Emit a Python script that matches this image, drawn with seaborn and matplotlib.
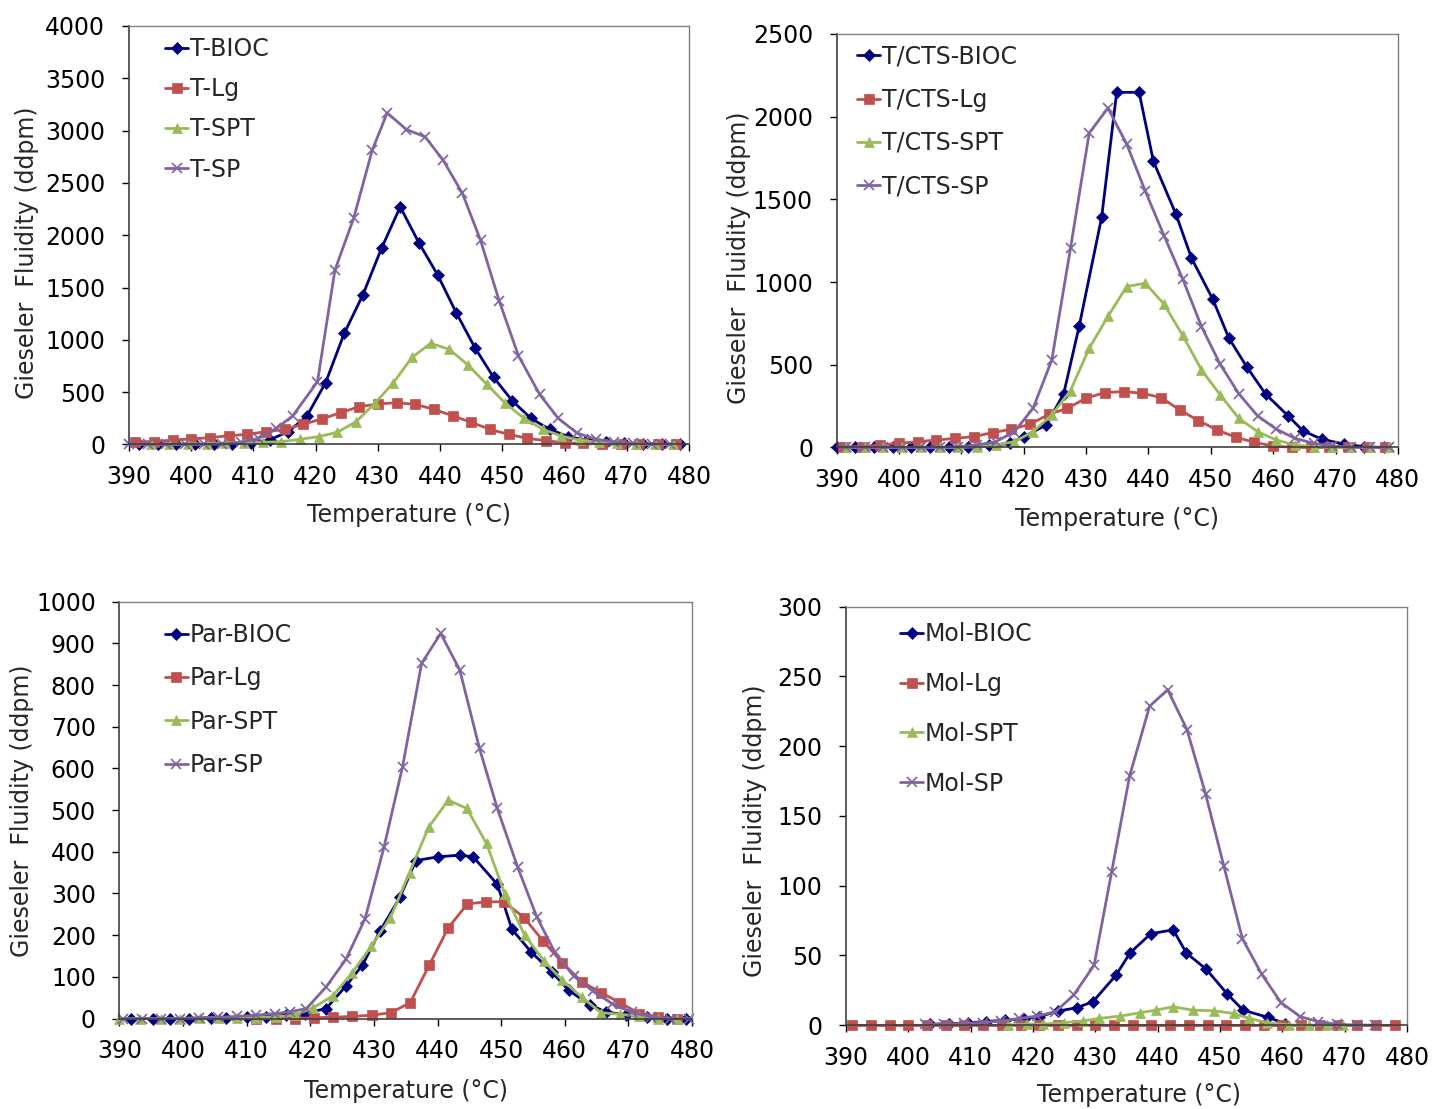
import matplotlib
matplotlib.use("Agg")
import matplotlib.pyplot as plt
import seaborn as sns

sns.set_theme(style="white")
plt.rcParams["font.family"] = ["DejaVu Sans"]

# ── data ──────────────────────────────────────────────────────────────────
# panel 1 : T-
P1_BIOC_T = [391.6, 394.6, 397.6, 400.6, 403.6, 406.6, 409.6, 412.6, 415.6, 418.6, 421.6, 424.6, 427.6, 430.6, 433.6,
             436.6, 439.6, 442.6, 445.6, 448.6, 451.6, 454.6, 457.6, 460.6, 463.6, 466.6, 469.6, 472.6, 475.6, 478.6]
P1_BIOC = [0, 0, 0, 0, 0, 5, 15, 45, 122, 272, 590, 1062, 1431, 1877, 2271,
           1927, 1622, 1259, 925, 642, 418, 250, 145, 75, 40, 20, 10, 5, 3, 0]
P1_LG_T = [391, 394, 397, 400, 403, 406, 409, 412, 415, 418, 421, 424, 427, 430, 433,
           436, 439, 442, 445, 448, 451, 454, 457, 460, 463, 466, 469, 472, 475, 478]
P1_LG = [27, 27, 43, 53, 65, 84, 97, 122, 145, 193, 244, 304, 361, 387, 399,
         384, 336, 275, 212, 145, 97, 59, 36, 17, 10, 5, 3, 2, 0, 0]
P1_SPT_T = [393.5, 396.5, 399.5, 402.5, 405.5, 408.5, 411.5, 414.5, 417.5, 420.5, 423.5, 426.5, 429.5, 432.5, 435.5,
            438.5, 441.5, 444.5, 447.5, 450.5, 453.5, 456.5, 459.5, 462.5, 465.5, 468.5, 471.5, 474.5, 477.5]
P1_SPT = [0, 0, 5, 8, 15, 17, 21, 27, 50, 75, 117, 218, 393, 590, 833,
          967, 909, 759, 575, 393, 250, 145, 81, 40, 20, 10, 5, 2, 0]
P1_SP_T = [390, 393, 396, 399, 402, 405, 408, 410.8, 413.7, 416.3, 420.3, 423.1, 426.1, 429.1, 431.5,
           434.6, 437.6, 440.5, 443.6, 446.5, 449.5, 452.6, 456, 459, 462, 465, 468, 471, 474, 477]
P1_SP = [0, 0, 0, 0, 0, 5, 20, 59, 155, 272, 600, 1667, 2160, 2813, 3169,
         3010, 2940, 2717, 2399, 1953, 1373, 848, 479, 250, 110, 50, 25, 10, 5, 0]

# panel 2 : T/CTS-
P2_BIOC_T = [390, 393, 396, 399, 402, 405, 408, 411, 414.5, 417.8, 420, 423.6, 426.4, 428.9, 432.5,
             434.9, 438.5, 440.8, 444.4, 446.9, 450.3, 452.9, 455.8, 458.8, 462.4, 464.8, 467.8, 471.3, 474.5, 477.8]
P2_BIOC = [0, 0, 0, 0, 0, 0, 0, 5, 12, 25, 65, 136, 324, 735, 1393,
           2147, 2147, 1729, 1411, 1145, 897, 661, 485, 322, 191, 100, 50, 21, 5, 0]
P2_LG_T = [391, 394, 397, 400, 403, 406, 409, 412, 415, 418, 421, 424, 427, 430, 433,
           436, 439, 442, 445, 448, 451, 454, 457, 460, 463, 466, 469, 472, 475, 478]
P2_LG = [5, 5, 15, 25, 35, 45, 55, 66, 90, 110, 140, 200, 237, 298, 332,
         338, 328, 302, 227, 163, 106, 62, 31, 9, 1, 0, 0, 0, 0, 0]
P2_SPT_T = [391.5, 394.5, 397.5, 400.5, 403.5, 406.5, 409.5, 412.5, 415.5, 418.5, 421.5, 424.5, 427.5, 430.5, 433.5,
            436.5, 439.5, 442.5, 445.5, 448.5, 451.5, 454.5, 457.5, 460.5, 463.5, 466.5, 469.5, 472.5, 475.5, 478.5]
P2_SPT = [0, 0, 0, 0, 0, 0, 0, 5, 15, 35, 96, 197, 344, 600, 792,
          973, 993, 866, 677, 469, 318, 176, 96, 45, 15, 5, 0, 0, 0, 0]
P2_SP_T = P2_SPT_T
P2_SP = [0, 0, 0, 0, 0, 0, 5, 15, 35, 95, 237, 529, 1205, 1901, 2052,
         1835, 1549, 1281, 1018, 731, 503, 324, 191, 111, 55, 25, 9, 1, 0, 0]

# panel 3 : Par-
P3_BIOC_T = [391.8, 395.2, 397.9, 401, 404.4, 406.8, 410, 413.1, 416.2, 419.1, 422.5, 425.6, 428.2, 431, 434.1,
             436.6, 440.1, 443.5, 445.6, 449.4, 451.7, 454.7, 458, 460.6, 464, 466.5, 469.7, 473, 476, 479]
P3_BIOC = [0, 0, 0, 0, 2, 2, 3, 4, 8, 12, 24, 78, 128, 211, 291,
           379, 388, 392, 388, 322, 214, 160, 111, 68, 32, 16, 8, 3, 0, 0]
P3_LG_T = [411.5, 414.6, 417.6, 420.6, 423.6, 426.6, 429.7, 432.7, 435.7, 438.7, 441.7, 444.7,
           447.6, 450.5, 453.6, 456.6, 459.6, 462.7, 465.7, 468.7, 471.7, 474.7, 477.7]
P3_LG = [0, 0, 0, 2, 3, 5, 8, 14, 38, 128, 218, 275, 280, 280, 242, 186, 134, 88, 62, 38, 12, 3, 0]
P3_SPT_T = [390, 393.3, 396.5, 399.5, 402.6, 405.6, 408.5, 411.5, 414.6, 417.6, 420.5, 423.5, 426.6, 429.6, 432.6,
            435.6, 438.6, 441.7, 444.6, 447.7, 450.6, 453.7, 456.7, 459.6, 462.7, 465.7, 468.7, 471.7, 474.7, 477.7]
P3_SPT = [0, 0, 0, 0, 1, 1, 1, 2, 4, 8, 26, 54, 110, 174, 242,
          350, 459, 524, 504, 420, 298, 200, 139, 92, 51, 14, 10, 6, 0, 0]
P3_SP_T = [390.5, 393.5, 396.5, 399.5, 402.5, 405.5, 408.5, 411.5, 414.5, 416.8, 419.4, 422.5, 425.6, 428.6, 431.6, 434.5,
           437.5, 440.5, 443.5, 446.6, 449.4, 452.6, 455.6, 458.4, 461.4, 464.5, 467.5, 470.5, 473.5, 476.5, 479.5]
P3_SP = [0, 0, 0, 0, 2, 3, 5, 8, 12, 16, 24, 76, 142, 239, 412, 604,
         852, 924, 836, 648, 504, 363, 244, 160, 102, 65, 35, 15, 4, 0, 0]

# panel 4 : Mol-
P4_BIOC_T = [403.5, 406.5, 409.5, 412.5, 415.5, 418.5, 421, 424, 427, 429.6,
             433.3, 435.6, 438.9, 442.5, 444.6, 447.8, 451.2, 453.7, 457.7, 460.5]
P4_BIOC = [0.5, 1, 1.5, 2.5, 3.5, 4.5, 6, 10, 12.4, 16.7, 35.7, 51.9, 65.5, 68.3, 51.7, 40, 22.1, 10.7, 5.5, 1]
P4_LG_T = [391, 394, 397, 400, 403, 406, 409, 412, 415, 418, 421, 424, 427, 430, 433,
           436, 439, 442, 445, 448, 451, 454, 457, 460, 463, 466, 469, 472, 475, 478]
P4_LG = [0] * 30
P4_SPT_T = [416, 419, 421.6, 424.9, 428, 430.6, 434, 437.1, 439.7, 442.5,
            445.6, 449.1, 452.2, 454.7, 457.5, 461.1, 464.3, 467.2, 469.8]
P4_SPT = [0, 0.7, 0.7, 1.7, 2.9, 4.8, 6.4, 8.8, 10.7, 13.1, 10.7, 10.2, 8.3, 4.8, 1.7, 0, 0, 0, 0]
P4_SP_T = [402.6, 405.8, 409, 411.9, 414.9, 417.8, 420.6, 423.6, 426.5, 429.8, 432.6, 435.5, 438.7,
           441.6, 444.7, 447.7, 450.6, 453.6, 456.7, 459.8, 462.9, 465.8, 468.8, 471.9, 474.8]
P4_SP = [0.5, 0.7, 1.2, 1.7, 2.9, 4.8, 6.4, 9.5, 21.4, 42.9, 109.5, 178.6, 228.6,
         240.5, 211.9, 165.5, 114.3, 61.9, 36.4, 16, 6, 2.4, 0.5, 0, 0]

SUFFIX = ["BIOC", "Lg", "SPT", "SP"]
COLORS = ["#000080", "#C0504D", "#9BBB59", "#8064A2"]
MARKERS = ["D", "s", "^", "x"]
MSIZE = [6, 6.5, 7, 7]

PANELS = [
    dict(prefix="T-", series=[(P1_BIOC_T, P1_BIOC), (P1_LG_T, P1_LG), (P1_SPT_T, P1_SPT), (P1_SP_T, P1_SP)],
         ymax=4000, ystep=500, pos=[0.0895, 0.5992, 0.3886, 0.3774],
         ylab=(-0.160, 0.458), xlab=(0.5, -0.14), leg=(0.064, 0.974), lsp=0.69),
    dict(prefix="T/CTS-", series=[(P2_BIOC_T, P2_BIOC), (P2_LG_T, P2_LG), (P2_SPT_T, P2_SPT), (P2_SP_T, P2_SP)],
         ymax=2500, ystep=500, pos=[0.5806, 0.5965, 0.3895, 0.3729],
         ylab=(-0.153, 0.458), xlab=(0.5, -0.144), leg=(0.036, 0.974), lsp=0.81),
    dict(prefix="Par-", series=[(P3_BIOC_T, P3_BIOC), (P3_LG_T, P3_LG), (P3_SPT_T, P3_SPT), (P3_SP_T, P3_SP)],
         ymax=1000, ystep=100, pos=[0.0829, 0.0816, 0.3973, 0.3758],
         ylab=(-0.149, 0.498), xlab=(0.5, -0.145), leg=(0.079, 0.949), lsp=0.82),
    dict(prefix="Mol-", series=[(P4_BIOC_T, P4_BIOC), (P4_LG_T, P4_LG), (P4_SPT_T, P4_SPT), (P4_SP_T, P4_SP)],
         ymax=300, ystep=50, pos=[0.5871, 0.0757, 0.3893, 0.3772],
         ylab=(-0.141, 0.464), xlab=(0.522, -0.139), leg=(0.096, 0.964), lsp=1.1),
]

FS = 17
fig = plt.figure(figsize=(14.41, 11.09), dpi=100)

for p in PANELS:
    ax = fig.add_axes(p["pos"])
    for (tx, vals), suf, col, mk, ms in zip(p["series"], SUFFIX, COLORS, MARKERS, MSIZE):
        sns.lineplot(x=tx, y=vals, ax=ax, color=col, marker=mk, markersize=ms,
                     markeredgecolor=col, markerfacecolor=col,
                     markeredgewidth=1.2 if mk == "x" else 0.5,
                     linewidth=2.0, label=p["prefix"] + suf, clip_on=False)
    ax.set_xlim(390, 480)
    ax.set_ylim(0, p["ymax"])
    ax.set_xticks(range(390, 481, 10))
    ax.set_yticks(range(0, p["ymax"] + 1, p["ystep"]))
    ax.tick_params(axis="both", direction="out", length=5, width=1, colors="black",
                   labelsize=FS, left=True, bottom=True)
    ax.tick_params(axis="y", pad=12)
    ax.tick_params(axis="x", pad=10)
    for side in ["left", "bottom"]:
        ax.spines[side].set_color("#404040")
        ax.spines[side].set_linewidth(1.2)
    for side in ["top", "right"]:
        ax.spines[side].set_color("#808080")
        ax.spines[side].set_linewidth(1.0)
    ax.set_xlabel("Temperature (°C)", fontsize=FS)
    ax.set_ylabel("Gieseler  Fluidity (ddpm)", fontsize=FS)
    ax.xaxis.set_label_coords(*p["xlab"])
    ax.yaxis.set_label_coords(*p["ylab"])
    ax.legend(loc="upper left", bbox_to_anchor=p["leg"], frameon=False, fontsize=FS,
              borderpad=0, borderaxespad=0, handlelength=1.0, handletextpad=0.05,
              labelspacing=p["lsp"], numpoints=1)

fig.savefig("out.png", dpi=100)
